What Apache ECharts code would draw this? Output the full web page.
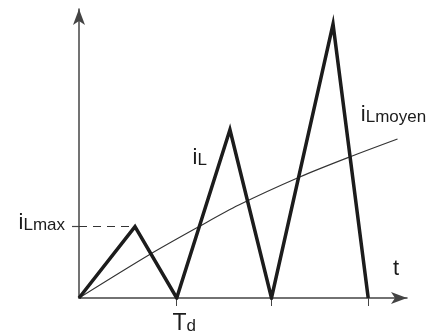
<!DOCTYPE html>
<html>
<head>
<meta charset="utf-8">
<script src="https://cdn.jsdelivr.net/npm/echarts@6/dist/echarts.min.js"></script>
<style>
  html, body { margin: 0; padding: 0; background: #fff; }
  #chart { width: 434px; height: 336px; }
</style>
</head>
<body>
<div id="chart"></div>
<script>
// Time in units of Td, current in units of iLmax
const iLTime = [0, 0.573, 1, 1.545, 1.97, 2.60, 2.96];
const iLValue = [0, 1, 0, 2.36, 0, 3.84, 0];

const meanTime = [0, 0.715, 1.226, 1.635, 2.259, 2.77, 3.26];
const meanValue = [0, 0.603, 1.0, 1.304, 1.697, 1.978, 2.23];

const xTickValues = [1, 1.97, 2.96];
const yTickValues = [1];
const iLmax = 1;
const iLmaxTime = 0.573;

const ink = '#1c1c1c';
const font = 'Liberation Sans, Arial, sans-serif';

const rich = {
  i: { fontSize: 22, fontFamily: font, color: ink, verticalAlign: 'bottom' },
  s: { fontSize: 17, fontFamily: font, color: ink, verticalAlign: 'bottom' },
  T: { fontSize: 23, fontFamily: font, color: ink, verticalAlign: 'bottom' },
  d: { fontSize: 17, fontFamily: font, color: ink, verticalAlign: 'bottom' },
  gap: { width: 15 }
};

const iLData = iLTime.map((t, k) => {
  const item = { value: [t, iLValue[k]] };
  if (k === 3) {
    item.label = {
      show: true, position: 'left', distance: 5, offset: [-18, 28],
      formatter: '{i|i}{s|L}', rich: rich
    };
  }
  return item;
});

const meanData = meanTime.map((t, k) => {
  const item = { value: [t, meanValue[k]] };
  if (k === meanTime.length - 1) {
    item.label = {
      show: true, position: 'top', distance: 5, offset: [-4, -8],
      formatter: '{i|i}{s|Lmoyen}', rich: rich
    };
  }
  return item;
});

const chart = echarts.init(document.getElementById('chart'), null, { renderer: 'canvas' });
chart.setOption({
  backgroundColor: '#fff',
  animation: false,
  grid: { left: 79, right: 27, top: 9, bottom: 38, containLabel: false },
  xAxis: {
    type: 'value', min: 0, max: 3.357,
    name: 't', nameLocation: 'end', nameGap: -14,
    nameTextStyle: { fontSize: 22, fontFamily: font, color: ink, verticalAlign: 'bottom', align: 'left', padding: [0, 0, 18, 0] },
    axisLine: { show: true, symbol: ['none', 'arrow'], symbolSize: [9, 16], lineStyle: { color: '#444', width: 1.5 } },
    axisTick: { show: true, customValues: xTickValues, length: 8, lineStyle: { color: '#444', width: 1 } },
    axisLabel: {
      show: true, customValues: [1], margin: 14,
      formatter: () => '{gap|}{T|T}{d|d}', rich: rich
    },
    splitLine: { show: false }
  },
  yAxis: {
    type: 'value', min: 0, max: 4.053,
    axisLine: { show: true, symbol: ['none', 'arrow'], symbolSize: [9, 16], lineStyle: { color: '#444', width: 1.5 } },
    axisTick: { show: true, customValues: yTickValues, length: 7, lineStyle: { color: '#444', width: 1.2 } },
    axisLabel: {
      show: true, customValues: yTickValues, margin: 14, padding: [0, 0, 8, 0],
      formatter: () => '{i|i}{s|Lmax}', rich: rich
    },
    splitLine: { show: false }
  },
  series: [
    {
      type: 'line', data: iLData,
      symbol: 'circle', symbolSize: 0, showSymbol: true,
      lineStyle: { color: ink, width: 3.5, join: 'miter' },
      z: 3,
      markLine: {
        silent: true, symbol: ['none', 'none'], label: { show: false },
        lineStyle: { type: [8, 6], color: '#333', width: 1.2 },
        data: [[{ coord: [0, iLmax] }, { coord: [iLmaxTime, iLmax] }]]
      }
    },
    {
      type: 'line', data: meanData, smooth: 0.3,
      symbol: 'circle', symbolSize: 0, showSymbol: true,
      lineStyle: { color: '#333', width: 1.1 },
      z: 2
    }
  ]
});
</script>
</body>
</html>
